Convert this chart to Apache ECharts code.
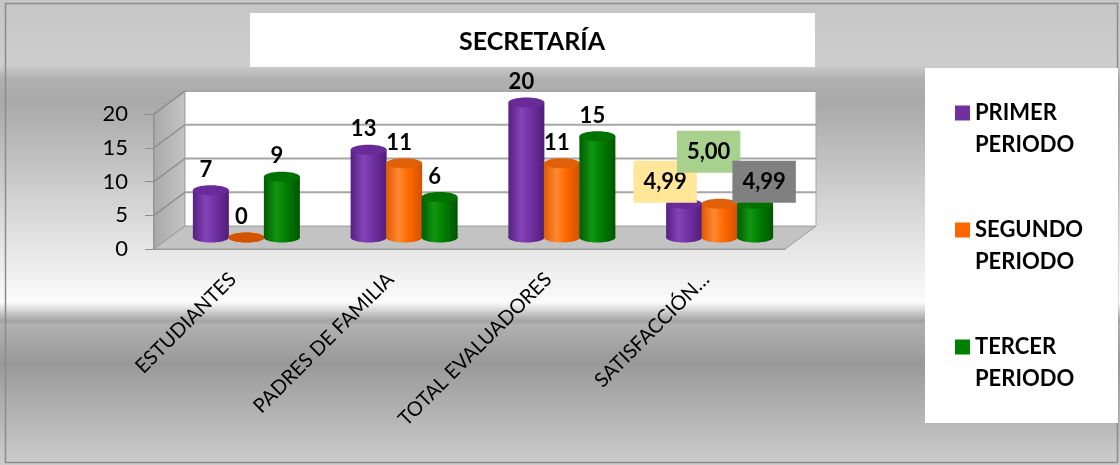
<!DOCTYPE html>
<html>
<head>
<meta charset="utf-8">
<title>Secretaría</title>
<script src="https://cdn.jsdelivr.net/npm/echarts@6/dist/echarts.min.js"></script>
<style>
  html, body { margin: 0; padding: 0; background: #fff; }
  #chart { width: 1120px; height: 465px; }
</style>
</head>
<body>
<div id="chart"></div>
<script>
// datos del grafico
var categories = ['ESTUDIANTES', 'PADRES DE FAMILIA', 'TOTAL EVALUADORES', 'SATISFACCIÓN…'];
var seriesNames = ['PRIMER PERIODO', 'SEGUNDO PERIODO', 'TERCER PERIODO'];
var primerPeriodo = [7, 13, 20, 4.99];
var segundoPeriodo = [0, 11, 11, 5.00];
var tercerPeriodo = [9, 6, 15, 4.99];
var yTicks = [0, 5, 10, 15, 20];

var values = [primerPeriodo, segundoPeriodo, tercerPeriodo];
var font = 'Lato, "Open Sans", sans-serif';

// estilo 3D (aproximado)
var depth = [31, -23];            // fondo de la pared respecto al eje frontal
var barShift = [-22, 13.5, 49];   // centro de cada cilindro respecto a la categoria
var barRx = 18, barRy = 5;
var colors = ['#7030A0', '#FF6600', '#008000'];
var bodyStops = [
    ['#561f80', '#8443b8', '#7332a5', '#511d78'],
    ['#e05a00', '#ff8a33', '#ff6a00', '#d45000'],
    ['#005c00', '#129612', '#008000', '#005500']
];
var topColors = ['#6a2a99', '#e06008', '#007200'];
// cajas de las etiquetas de satisfaccion
var satLabels = [
    { bg: '#FFE699', dx: -19, dy: -22 },
    { bg: '#A9D18E', dx: -11, dy: -52 },
    { bg: '#808080', dx: 9, dy: -22 }
];

function fmt(v, ci) {
    return ci === 3 ? v.toFixed(2).replace('.', ',') : String(v);
}

function renderWalls(params, api) {
    var cs = params.coordSys;
    var x0 = cs.x, x1 = cs.x + cs.width;
    var y0 = api.coord([0, 0])[1];
    var yTop = api.coord([0, yTicks[yTicks.length - 1]])[1];
    var dx = depth[0], dy = depth[1];
    var children = [
        {
            type: 'polygon',
            shape: { points: [[x0, y0], [x0 + dx, y0 + dy], [x0 + dx, yTop + dy], [x0, yTop]] },
            style: {
                fill: new echarts.graphic.LinearGradient(0, 0, 1, 0, [
                    { offset: 0, color: '#a9a9a9' }, { offset: 1, color: '#c4c4c4' }
                ]),
                stroke: '#8f8f8f', lineWidth: 1
            }
        },
        {
            type: 'polygon',
            shape: { points: [[x0, y0], [x1, y0], [x1 + dx, y0 + dy], [x0 + dx, y0 + dy]] },
            style: { fill: '#c3c3c3', stroke: '#9a9a9a', lineWidth: 1 }
        },
        {
            type: 'rect',
            shape: { x: x0 + dx, y: yTop + dy, width: x1 - x0, height: y0 - yTop },
            style: { fill: '#ffffff', stroke: '#a8a8a8', lineWidth: 1 }
        }
    ];
    yTicks.forEach(function (v) {
        if (v === 0) return;
        var y = api.coord([0, v])[1];
        children.push({
            type: 'line',
            shape: { x1: x0 + dx, y1: y + dy, x2: x1 + dx, y2: y + dy },
            style: { stroke: '#a6a6a6', lineWidth: 2 }
        });
        children.push({
            type: 'line',
            shape: { x1: x0, y1: y, x2: x0 + dx, y2: y + dy },
            style: { stroke: '#8c8c8c', lineWidth: 1.5 }
        });
    });
    return { type: 'group', children: children };
}

function makeCylinder(si) {
    return function (params, api) {
        var ci = api.value(0), v = api.value(1);
        var top = api.coord([ci, v]);
        var bot = api.coord([ci, 0]);
        var cx = top[0] + barShift[si];
        var ty = top[1] + depth[1] / 2;
        var by = bot[1] + depth[1] / 2;
        var st = bodyStops[si];
        var grad = new echarts.graphic.LinearGradient(0, 0, 1, 0, [
            { offset: 0, color: st[0] }, { offset: 0.35, color: st[1] },
            { offset: 0.6, color: st[2] }, { offset: 1, color: st[3] }
        ]);
        var children = [
            { type: 'ellipse', shape: { cx: cx, cy: by, rx: barRx, ry: barRy }, style: { fill: grad } },
            { type: 'rect', shape: { x: cx - barRx, y: ty, width: barRx * 2, height: Math.max(by - ty, 0) }, style: { fill: grad } },
            { type: 'ellipse', shape: { cx: cx, cy: ty, rx: barRx, ry: barRy }, style: { fill: v === 0 ? '#d35400' : topColors[si] } }
        ];
        var label = {
            type: 'text',
            z2: 10,
            style: {
                text: fmt(v, ci),
                x: cx - 5,
                y: ty - 20.5,
                align: 'center',
                verticalAlign: 'middle',
                fill: '#000',
                font: 'bold 22px ' + font
            }
        };
        if (ci === 3) {
            var s = satLabels[si];
            label.style.x = cx + s.dx;
            label.style.y = ty + s.dy;
            label.style.backgroundColor = s.bg;
            label.style.padding = [10, 10, 10, 10];
            label.z2 = 20 + (si === 1 ? 5 : 0);
        }
        children.push(label);
        return { type: 'group', children: children };
    };
}

var series = [{
    type: 'custom',
    name: 'paredes',
    silent: true,
    z: 1,
    renderItem: renderWalls,
    data: [[0, 0]]
}];
values.forEach(function (arr, si) {
    series.push({
        type: 'custom',
        name: seriesNames[si],
        z: 2 + si,
        itemStyle: { color: colors[si] },
        renderItem: makeCylinder(si),
        data: arr.map(function (v, ci) { return [ci, v]; })
    });
});

var chart = echarts.init(document.getElementById('chart'));
chart.setOption({
    animation: false,
    textStyle: { fontFamily: font },
    graphic: [
        {
            type: 'rect', z: -10, silent: true,
            shape: { x: 0, y: 0, width: 1120, height: 465 },
            style: {
                fill: new echarts.graphic.LinearGradient(0, 0, 0, 1, [
                    { offset: 0, color: '#c6c6c6' },
                    { offset: 0.14, color: '#cdcdcd' },
                    { offset: 0.17, color: '#b0b0b0' },
                    { offset: 0.22, color: '#a9a9a9' },
                    { offset: 0.45, color: '#d6d6d6' },
                    { offset: 0.6, color: '#f2f2f2' },
                    { offset: 0.65, color: '#fbfbfb' },
                    { offset: 0.66, color: '#e6e6e6' },
                    { offset: 0.69, color: '#a3a3a3' },
                    { offset: 0.7, color: '#b0b0b0' },
                    { offset: 0.78, color: '#999999' },
                    { offset: 1, color: '#cdcdcd' }
                ])
            }
        },
        {
            type: 'rect', z: -9, silent: true,
            shape: { x: 5.5, y: 3.5, width: 1112, height: 459 },
            style: { fill: 'none', stroke: '#8c8c8c', lineWidth: 1.5 }
        },
        {
            type: 'rect', z: -8, silent: true,
            shape: { x: 250, y: 13, width: 565, height: 54 },
            style: { fill: '#ffffff' }
        },
        {
            type: 'text', z: -7, silent: true,
            x: 532, y: 42,
            style: {
                text: 'SECRETARÍA', align: 'center', verticalAlign: 'middle',
                fill: '#000', font: 'bold 25px ' + font
            }
        },
        {
            type: 'rect', z: -8, silent: true,
            shape: { x: 925, y: 68, width: 193, height: 355 },
            style: { fill: '#ffffff' }
        }
    ],
    legend: {
        data: seriesNames,
        orient: 'vertical',
        left: 955,
        top: 65,
        padding: 0,
        itemGap: 21,
        itemWidth: 15,
        itemHeight: 15,
        icon: 'rect',
        // linea vacia arriba para que el cuadro quede junto a la primera linea
        formatter: function (name) { return '\n' + name.replace(' ', '\n'); },
        textStyle: {
            fontSize: 22, fontWeight: 'bold', color: '#000', lineHeight: 32
        }
    },
    grid: { left: 154, right: 335, top: 114, bottom: 216 },
    xAxis: {
        type: 'category',
        data: categories,
        axisLine: { lineStyle: { color: '#8c8c8c', width: 1.5 } },
        axisTick: { length: 6, lineStyle: { color: '#8c8c8c' } },
        axisLabel: { rotate: 45, interval: 0, margin: 27, fontSize: 20, color: '#000' }
    },
    yAxis: {
        type: 'value',
        min: 0,
        max: 20,
        interval: 5,
        splitLine: { show: false },
        axisLine: { show: true, lineStyle: { color: '#8c8c8c', width: 1.5 } },
        axisTick: { show: true, length: 9, lineStyle: { color: '#8c8c8c' } },
        axisLabel: { fontSize: 22, color: '#000', margin: 26 }
    },
    series: series
});
</script>
</body>
</html>
